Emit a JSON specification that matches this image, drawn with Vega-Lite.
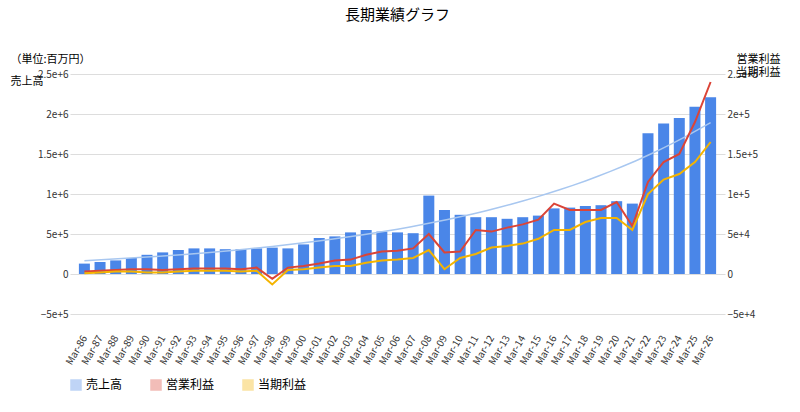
{
  "$schema": "https://vega.github.io/schema/vega-lite/v6.json",
  "width": 655,
  "height": 240,
  "padding": {"left": 10, "top": 8, "right": 10, "bottom": 5},
  "title": {"text": "長期業績グラフ", "subtitle": "", "fontSize": 15, "font": "Noto Sans CJK JP", "fontWeight": "normal", "offset": 30},
  "config": {"font": "Noto Sans CJK JP", "view": {"stroke": null}},
  "data": {"values": [
    {"i":0,"sales":130000,"op":3000,"net":1000},
    {"i":1,"sales":150000,"op":4000,"net":2000},
    {"i":2,"sales":170000,"op":5000,"net":3000},
    {"i":3,"sales":200000,"op":6000,"net":3000},
    {"i":4,"sales":240000,"op":6000,"net":2000},
    {"i":5,"sales":270000,"op":5000,"net":2000},
    {"i":6,"sales":300000,"op":6000,"net":3000},
    {"i":7,"sales":320000,"op":7000,"net":4000},
    {"i":8,"sales":320000,"op":7000,"net":4000},
    {"i":9,"sales":310000,"op":7000,"net":4000},
    {"i":10,"sales":310000,"op":6000,"net":3000},
    {"i":11,"sales":320000,"op":8000,"net":4000},
    {"i":12,"sales":330000,"op":-6000,"net":-13000},
    {"i":13,"sales":320000,"op":8000,"net":5000},
    {"i":14,"sales":370000,"op":10000,"net":6000},
    {"i":15,"sales":450000,"op":13000,"net":8000},
    {"i":16,"sales":470000,"op":17000,"net":10000},
    {"i":17,"sales":520000,"op":18000,"net":10000},
    {"i":18,"sales":550000,"op":24000,"net":14000},
    {"i":19,"sales":530000,"op":28000,"net":17000},
    {"i":20,"sales":520000,"op":29000,"net":18000},
    {"i":21,"sales":510000,"op":32000,"net":20000},
    {"i":22,"sales":980000,"op":50000,"net":30000},
    {"i":23,"sales":800000,"op":27000,"net":6000},
    {"i":24,"sales":740000,"op":28000,"net":20000},
    {"i":25,"sales":710000,"op":55000,"net":25000},
    {"i":26,"sales":710000,"op":53000,"net":33000},
    {"i":27,"sales":690000,"op":58000,"net":35000},
    {"i":28,"sales":710000,"op":62000,"net":38000},
    {"i":29,"sales":730000,"op":68000,"net":44000},
    {"i":30,"sales":820000,"op":88000,"net":55000},
    {"i":31,"sales":830000,"op":80000,"net":55000},
    {"i":32,"sales":850000,"op":80000,"net":65000},
    {"i":33,"sales":860000,"op":80000,"net":70000},
    {"i":34,"sales":910000,"op":90000,"net":70000},
    {"i":35,"sales":880000,"op":60000,"net":55000},
    {"i":36,"sales":1760000,"op":115000,"net":100000},
    {"i":37,"sales":1880000,"op":140000,"net":118000},
    {"i":38,"sales":1950000,"op":150000,"net":125000},
    {"i":39,"sales":2090000,"op":190000,"net":140000},
    {"i":40,"sales":2210000,"op":240000,"net":165000}
  ]},
  "encoding": {
    "x": {"field": "i", "type": "quantitative", "scale": {"domain": [-0.6, 40.6], "nice": false, "zero": false},
      "axis": {"title": null, "values": [0,1,2,3,4,5,6,7,8,9,10,11,12,13,14,15,16,17,18,19,20,21,22,23,24,25,26,27,28,29,30,31,32,33,34,35,36,37,38,39,40],
        "labelExpr": "'Mar-' + (((86+datum.value)%100)<10?'0':'') + ((86+datum.value)%100)",
        "labelAngle": -60, "labelAlign": "right", "labelBaseline": "middle", "labelOverlap": false, "labelFontSize": 10, "grid": false, "ticks": false, "domain": false, "labelColor": "#333", "offset": 20}}
  },
  "layer": [
    {
      "encoding": {
        "y": {"field": "sales", "type": "quantitative", "scale": {"domain": [-500000, 2500000], "nice": false},
          "axis": {"title": ["（単位:百万円）", "売上高"], "titleAngle": 0, "titleAlign": "left", "titleBaseline": "bottom", "titleX": -60, "titleY": -10, "titleFontWeight": "normal", "titleFontSize": 11, "titleLineHeight": 22,
            "format": ",", "values": [-500000,0,500000,1000000,1500000,2000000,2500000], "labelOverlap": false, "ticks": false, "domain": false, "gridColor": "#ddd", "labelColor": "#333"}}
      },
      "layer": [
        {"mark": {"type": "bar", "width": 11},
         "encoding": {
           "color": {"datum": "売上高", "type": "nominal",
             "scale": {"domain": ["売上高","営業利益","当期利益"], "range": ["#4a86e8","#db4437","#f4b400"]},
             "legend": {"orient": "bottom", "title": null, "direction": "horizontal", "labelFontSize": 12, "offset": 12, "columnPadding": 25}}}},
        {"transform": [{"regression": "sales", "on": "i", "method": "exp"}],
         "mark": {"type": "line", "color": "#a8c7f0", "strokeWidth": 1.5}}
      ]
    },
    {
      "transform": [{"fold": ["op", "net"], "as": ["key", "v"]},
        {"calculate": "datum.key == 'op' ? '営業利益' : '当期利益'", "as": "series"}],
      "encoding": {
        "y": {"field": "v", "type": "quantitative", "scale": {"domain": [-50000, 250000], "nice": false},
          "axis": {"orient": "right", "title": ["営業利益", "当期利益"], "titleAngle": 0, "titleAlign": "right", "titleBaseline": "bottom", "titleX": 55, "titleY": -10, "titleFontWeight": "normal", "titleFontSize": 11,
            "format": ",", "values": [-50000,0,50000,100000,150000,200000,250000], "labelOverlap": false, "ticks": false, "domain": false, "grid": false, "labelColor": "#333"}},
        "color": {"field": "series", "type": "nominal", "legend": {"orient": "bottom", "title": null, "direction": "horizontal", "labelFontSize": 12, "offset": 12, "columnPadding": 25}}
      },
      "layer": [
        {"transform": [{"regression": "v", "on": "i", "method": "exp", "groupby": ["series"]}],
         "mark": {"type": "line", "strokeWidth": 1.5, "opacity": 0.35}},
        {"mark": {"type": "line", "strokeWidth": 2}}
      ]
    }
  ],
  "resolve": {"scale": {"y": "independent"}}
}
